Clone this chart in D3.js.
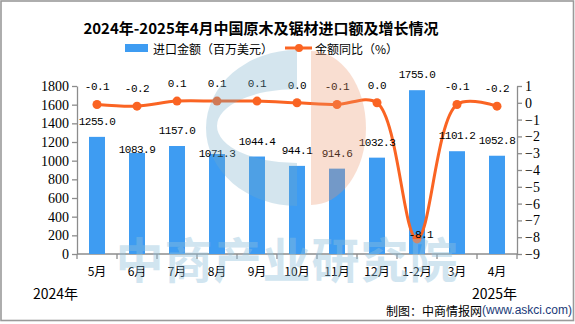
<!DOCTYPE html>
<html><head><meta charset="utf-8">
<script src="https://cdn.jsdelivr.net/npm/d3@7/dist/d3.min.js"></script>
<style>body{margin:0;background:#fff}svg{display:block}</style>
</head><body><svg id="c" width="575" height="324"></svg>
<script>
const categories = ["5月","6月","7月","8月","9月","10月","11月","12月","1-2月","3月","4月"];
const importValues = [1255.0,1083.9,1157.0,1071.3,1044.4,944.1,914.6,1032.3,1755.0,1101.2,1052.8];
const yoyValues = [-0.1,-0.2,0.1,0.1,0.1,0.0,-0.1,0.0,-8.1,-0.1,-0.2];
const leftTicks = [0,200,400,600,800,1000,1200,1400,1600,1800];
const rightTicks = [1,0,-1,-2,-3,-4,-5,-6,-7,-8,-9];
const titleText = "2024年-2025年4月中国原木及锯材进口额及增长情况";
const legendBar = "进口金额（百万美元）";
const legendLine = "金额同比（%）";

// layout tweaks (label nudges as in the reference)
const barLabelLowered = {"6月": 12, "8月": 15};

const svg = d3.select("#c");
const BLUE = "#3E9CF2", ORANGE = "#FA6423", AXIS = "#8c8c8c";
const monoFont = "'Liberation Mono', monospace";
const cjk = "'Noto Sans CJK SC', sans-serif";

svg.append("rect").attr("x",1).attr("y",1).attr("width",572.5).attr("height",319.5)
  .attr("fill","#fff").attr("stroke","#9a9a9a").attr("stroke-width",1.6);

const x = d3.scaleBand().domain(categories).range([77,517]).paddingInner(0.6).paddingOuter(0.3);
const yL = d3.scaleLinear().domain([0,1800]).range([254,86]);
const yR = d3.scaleLinear().domain([-9,1]).range([254,86]);
const cx = c => x(c) + x.bandwidth()/2;

// title
svg.append("text").attr("x",261).attr("y",27).attr("text-anchor","middle").attr("dominant-baseline","central")
  .attr("font-family",cjk).attr("font-weight","bold").attr("font-size",15).attr("fill","#000").text(titleText);

// legend
svg.append("rect").attr("x",125).attr("y",44).attr("width",23).attr("height",8).attr("fill",BLUE);
svg.append("text").attr("x",153).attr("y",48).attr("dominant-baseline","central")
  .attr("font-family",cjk).attr("font-size",12).attr("fill","#000").text(legendBar);
svg.append("line").attr("x1",285).attr("x2",312).attr("y1",48).attr("y2",48).attr("stroke",ORANGE).attr("stroke-width",3);
svg.append("circle").attr("cx",299).attr("cy",48).attr("r",4).attr("fill",ORANGE);
svg.append("text").attr("x",315).attr("y",48).attr("dominant-baseline","central")
  .attr("font-family",cjk).attr("font-size",12).attr("fill","#000").text(legendLine);

// axes
const gL = svg.append("g").attr("transform","translate(77,0)")
  .call(d3.axisLeft(yL).tickValues(leftTicks).tickSize(5).tickSizeOuter(0).tickPadding(3).tickFormat(d3.format("d")));
const gR = svg.append("g").attr("transform","translate(517,0)")
  .call(d3.axisRight(yR).tickValues(rightTicks).tickSize(5).tickSizeOuter(0).tickPadding(3).tickFormat(d => d < 0 ? "−" + Math.abs(d) : d));
[gL,gR].forEach(g => {
  g.select(".domain").attr("stroke",AXIS).attr("stroke-width",1.3);
  g.selectAll(".tick line").attr("stroke",AXIS).attr("stroke-width",1.3);
  g.selectAll(".tick text").attr("font-family","'Liberation Serif', serif").attr("font-size",14).attr("fill","#000");
});

// x axis
svg.append("line").attr("x1",77).attr("x2",517).attr("y1",254).attr("y2",254).attr("stroke",AXIS).attr("stroke-width",1.3);
const bounds = categories.map(c => cx(c) - x.step()/2).concat([cx(categories[categories.length-1]) + x.step()/2]);
svg.selectAll(".xt").data(bounds).join("line").attr("x1",d=>d).attr("x2",d=>d).attr("y1",254).attr("y2",259)
  .attr("stroke",AXIS).attr("stroke-width",1.3);
svg.selectAll(".xl").data(categories).join("text").attr("x",c=>cx(c)).attr("y",270).attr("text-anchor","middle")
  .attr("dominant-baseline","central").attr("font-family",cjk).attr("font-size",12).attr("fill","#000").text(c=>c);

// bars
svg.selectAll(".bar").data(categories).join("rect").attr("x",c=>x(c)).attr("width",x.bandwidth())
  .attr("y",(c,i)=>yL(importValues[i])).attr("height",(c,i)=>yL(0)-yL(importValues[i])).attr("fill",BLUE);

// line
const line = d3.line().x(d=>cx(d.c)).y(d=>yR(d.v)).curve(d3.curveCatmullRom.alpha(0.5));
const pts = categories.map((c,i)=>({c, v: yoyValues[i]}));
svg.append("path").datum(pts).attr("d",line).attr("fill","none").attr("stroke",ORANGE).attr("stroke-width",3);
svg.selectAll(".dot").data(pts).join("circle").attr("cx",d=>cx(d.c)).attr("cy",d=>yR(d.v)).attr("r",4.5).attr("fill",ORANGE);

// bar labels
svg.selectAll(".bl").data(categories).join("text")
  .attr("x",c=>cx(c)).attr("y",(c,i)=>yL(importValues[i]) - 15 + (barLabelLowered[c]||0))
  .attr("text-anchor","middle").attr("dominant-baseline","central")
  .attr("font-family",monoFont).attr("font-size",11).attr("letter-spacing",-0.5).attr("fill","#000")
  .text((c,i)=>importValues[i].toFixed(1));

// line labels
svg.selectAll(".ll").data(pts).join("text")
  .attr("x",d=>cx(d.c) + (d.v < -5 ? 4 : 0)).attr("y",d=>yR(d.v) + (d.v < -5 ? -4 : -17))
  .attr("text-anchor","middle").attr("dominant-baseline","central")
  .attr("font-family",monoFont).attr("font-size",11).attr("letter-spacing",-0.5).attr("fill","#000")
  .text(d=>d.v.toFixed(1));

// watermark logo (semi-transparent overlay)
const wm = svg.append("g").attr("opacity",0.3);
const ell = (cx0,cy0,rx,ry) => `M${cx0-rx},${cy0}a${rx},${ry} 0 1,0 ${2*rx},0a${rx},${ry} 0 1,0 ${-2*rx},0Z`;
svg.append("clipPath").attr("id","leftHalf").append("rect").attr("x",150).attr("y",40).attr("width",147).attr("height",200);
wm.append("path").attr("d", ell(297,128,91,78) + ell(297,126,80,37)).attr("fill-rule","evenodd")
  .attr("fill","#73acca").attr("clip-path","url(#leftHalf)");
wm.append("path").attr("d",`M311,51 A55,77 0 0,1 311,205 Z`).attr("fill","#ee9469");

// watermark text
svg.append("text").attr("x",287).attr("y",257).attr("text-anchor","middle").attr("dominant-baseline","central")
  .attr("font-family",cjk).attr("font-weight","bold").attr("font-size",48).attr("letter-spacing",1)
  .attr("fill","#8fc0dc").attr("opacity",0.4).text("中商产业研究院");

// footer
svg.append("text").attr("x",33).attr("y",293).attr("dominant-baseline","central")
  .attr("font-family",cjk).attr("font-size",14).attr("fill","#000").text("2024年");
svg.append("text").attr("x",472).attr("y",293).attr("dominant-baseline","central")
  .attr("font-family",cjk).attr("font-size",14).attr("fill","#000").text("2025年");
const src = svg.append("text").attr("x",386).attr("y",310).attr("dominant-baseline","central").attr("font-size",12);
src.append("tspan").attr("font-family",cjk).attr("fill","#000").text("制图：中商情报网");
src.append("tspan").attr("font-family","'Liberation Sans', sans-serif").attr("fill","#1a3a78").text("(www.askci.com)");
</script></body></html>
